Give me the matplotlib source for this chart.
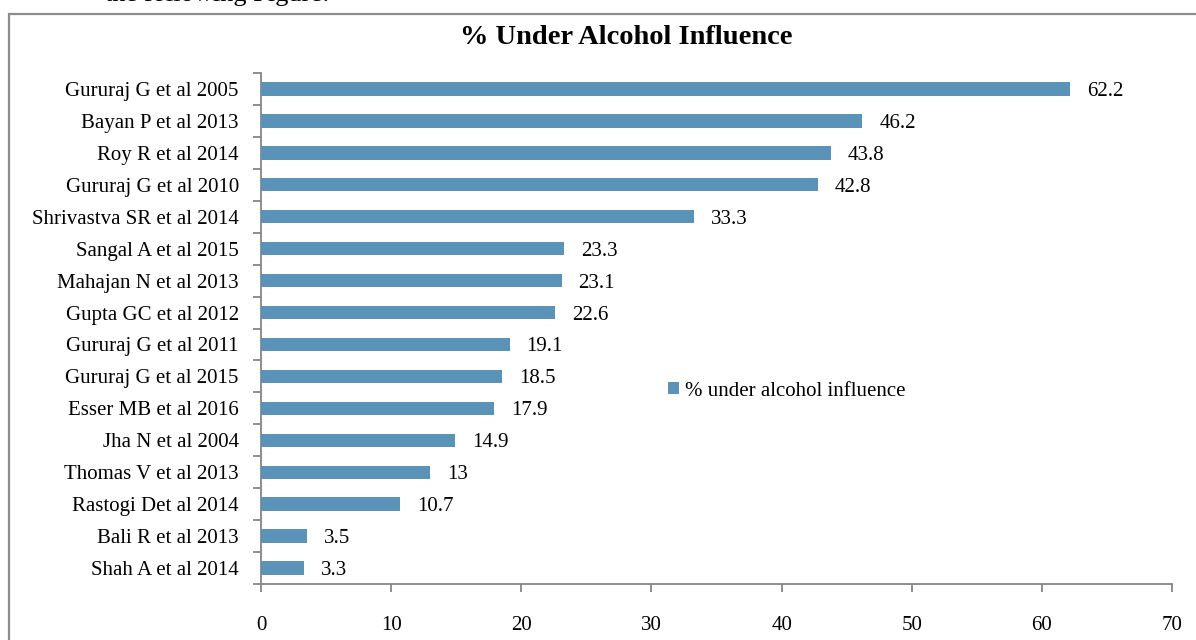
import matplotlib
matplotlib.use("Agg")
import matplotlib.pyplot as plt
from matplotlib.patches import Rectangle

studies = [
    "Gururaj G et al 2005", "Bayan P et al 2013", "Roy R et al 2014",
    "Gururaj G et al 2010", "Shrivastva SR et al 2014", "Sangal A et al 2015",
    "Mahajan N et al 2013", "Gupta GC et al 2012", "Gururaj G et al 2011",
    "Gururaj G et al 2015", "Esser MB et al 2016", "Jha N et al 2004",
    "Thomas V et al 2013", "Rastogi Det al 2014", "Bali R et al 2013",
    "Shah A et al 2014",
]
percent_alcohol = [62.2, 46.2, 43.8, 42.8, 33.3, 23.3, 23.1, 22.6, 19.1,
                   18.5, 17.9, 14.9, 13, 10.7, 3.5, 3.3]
value_labels = ["62.2", "46.2", "43.8", "42.8", "33.3", "23.3", "23.1", "22.6",
                "19.1", "18.5", "17.9", "14.9", "13", "10.7", "3.5", "3.3"]
x_ticks = [0, 10, 20, 30, 40, 50, 60, 70]

plt.rcParams["font.family"] = ["Liberation Serif", "DejaVu Serif"]
BAR = "#5b93b8"
GRID = "#868686"
FS = 15

fig = plt.figure(figsize=(11.96, 6.4), dpi=100)
ax = fig.add_axes([261 / 1196, 1 - 584 / 640, (1172 - 261) / 1196, (584 - 73) / 640])

n = len(studies)
ypos = list(range(n))[::-1]
ax.barh(ypos, percent_alcohol, height=0.42, color=BAR,
        label="% under alcohol influence", zorder=3)

for y, v, lab in zip(ypos, percent_alcohol, value_labels):
    ax.text(v + 1.3, y, lab, va="center_baseline", ha="left", fontsize=FS)

ax.set_xlim(0, 70)
ax.set_ylim(-0.5, n - 0.5)
ax.set_xticks(x_ticks)
ax.set_xticklabels([str(t) for t in x_ticks], fontsize=FS)
ax.tick_params(axis="x", length=6, width=1.3, color=GRID, pad=17)

ax.set_yticks(ypos)
ax.set_yticklabels(studies, fontsize=FS)
ax.tick_params(axis="y", length=0, pad=16)
# category separators on the value axis
ax.set_yticks([i - 0.5 for i in range(n + 1)], minor=True)
ax.tick_params(axis="y", which="minor", length=6, width=1.3, color=GRID)

for s in ["top", "right"]:
    ax.spines[s].set_visible(False)
for s in ["left", "bottom"]:
    ax.spines[s].set_color(GRID)
    ax.spines[s].set_linewidth(1.3)

fig.text(0.524, 1 - 38 / 640, "% Under Alcohol Influence", ha="center",
         va="center", fontsize=20.5, fontweight="bold")

ax.legend(loc="center left", bbox_to_anchor=((668 - 261) / 911, (584 - 391) / 511),
          frameon=False, fontsize=FS, handlelength=0.55, handleheight=0.55,
          handletextpad=0.25, borderaxespad=0, borderpad=0)

# outer chart frame
fig.patches.append(Rectangle((9 / 1196, -0.05), 1.2, 1 - 14 / 640 + 0.05,
                             transform=fig.transFigure, fill=False,
                             edgecolor="#8c8c8c", linewidth=1.6))

# surrounding document text
fig.text(105 / 1196, 1 - 1 / 640, "the following Figure:", ha="left",
         va="baseline", fontsize=19)

fig.savefig("out.png", dpi=100)
